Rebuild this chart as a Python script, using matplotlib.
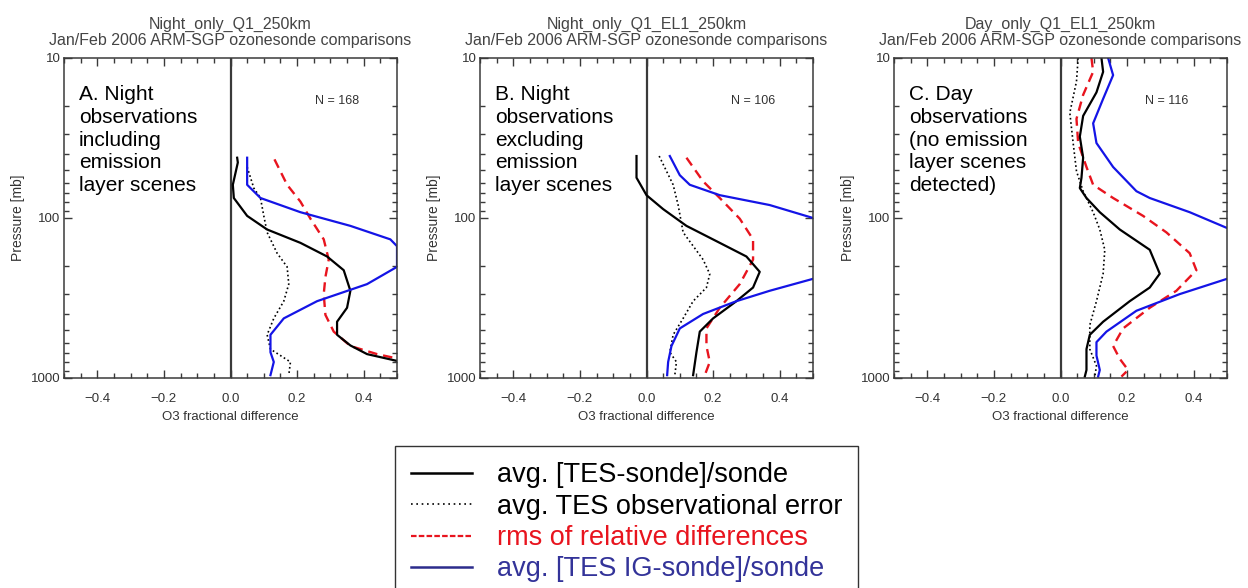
import numpy as np
import matplotlib.pyplot as plt
from matplotlib.lines import Line2D
from matplotlib.ticker import MultipleLocator, LogLocator, FuncFormatter, NullFormatter

plt.rcParams['font.family'] = ['Liberation Sans', 'DejaVu Sans']

# ---- data (x = fractional difference, p = pressure in mb)
titles = ["Night_only_Q1_250km\nJan/Feb 2006 ARM-SGP ozonesonde comparisons",
          "Night_only_Q1_EL1_250km\nJan/Feb 2006 ARM-SGP ozonesonde comparisons",
          "Day_only_Q1_EL1_250km\nJan/Feb 2006 ARM-SGP ozonesonde comparisons"]
notes = ["A. Night\nobservations\nincluding\nemission\nlayer scenes",
         "B. Night\nobservations\nexcluding\nemission\nlayer scenes",
         "C. Day\nobservations\n(no emission\nlayer scenes\ndetected)"]
counts = [168, 106, 116]

# A
a_black_p = [42, 45, 62, 75, 97, 118, 143, 174, 212, 285, 364, 445, 537, 626, 709, 782, 900]
a_black_x = [0.02, 0.022, 0.007, 0.01, 0.05, 0.11, 0.21, 0.29, 0.34, 0.36, 0.35, 0.32, 0.32, 0.36, 0.41, 0.50, 0.62]
a_dot_p = [48, 65, 75, 97, 123, 166, 202, 259, 331, 424, 537, 660, 794, 960]
a_dot_x = [0.05, 0.07, 0.09, 0.10, 0.11, 0.14, 0.17, 0.175, 0.16, 0.13, 0.11, 0.12, 0.18, 0.175]
a_red_p = [43, 62, 79, 101, 136, 182, 234, 299, 403, 513, 631, 709, 755, 900]
a_red_x = [0.132, 0.17, 0.21, 0.24, 0.28, 0.295, 0.285, 0.28, 0.285, 0.31, 0.36, 0.44, 0.50, 0.62]
a_blue_p = [42, 62, 75, 92, 112, 136, 150, 202, 259, 331, 424, 537, 690, 794, 960]
a_blue_x = [0.05, 0.05, 0.09, 0.21, 0.36, 0.48, 0.5, 0.5, 0.41, 0.26, 0.16, 0.12, 0.12, 0.13, 0.12]

# B
b_black_p = [41, 56, 72, 88, 112, 143, 174, 217, 272, 331, 424, 513, 690, 960]
b_black_x = [-0.03, -0.03, 0.0, 0.05, 0.12, 0.22, 0.30, 0.34, 0.32, 0.27, 0.20, 0.16, 0.15, 0.14]
b_dot_p = [41, 62, 83, 123, 182, 224, 272, 331, 424, 537, 690, 794, 960]
b_dot_x = [0.038, 0.08, 0.095, 0.11, 0.17, 0.19, 0.18, 0.14, 0.11, 0.08, 0.07, 0.09, 0.085]
b_red_p = [42, 59, 75, 101, 136, 182, 259, 364, 490, 631, 794, 960]
b_red_x = [0.12, 0.17, 0.22, 0.28, 0.32, 0.32, 0.28, 0.22, 0.18, 0.18, 0.19, 0.175]
b_blue_p = [41, 54, 62, 72, 83, 100, 140, 190, 240, 285, 331, 398, 490, 631, 794, 960]
b_blue_x = [0.07, 0.10, 0.13, 0.22, 0.37, 0.50, 0.75, 0.70, 0.50, 0.37, 0.27, 0.17, 0.10, 0.075, 0.065, 0.062]

# C
c_black_p = [10, 12.2, 16.4, 23, 31, 42, 56, 65, 75, 92, 118, 158, 223, 272, 331, 445, 537, 660, 891, 980]
c_black_x = [0.123, 0.128, 0.108, 0.068, 0.058, 0.068, 0.063, 0.058, 0.078, 0.118, 0.178, 0.268, 0.298,
             0.268, 0.208, 0.128, 0.088, 0.078, 0.078, 0.073]
c_dot_p = [10, 14, 22, 34, 51, 68, 92, 118, 158, 223, 331, 467, 660, 841, 980]
c_dot_x = [0.053, 0.048, 0.028, 0.038, 0.048, 0.068, 0.098, 0.118, 0.133, 0.128, 0.108, 0.088, 0.088, 0.108, 0.103]
c_red_p = [10, 12.2, 17, 24, 34, 48, 62, 75, 97, 123, 166, 212, 285, 364, 490, 631, 759, 891, 980]
c_red_x = [0.093, 0.098, 0.068, 0.048, 0.053, 0.078, 0.098, 0.158, 0.248, 0.318, 0.388, 0.408, 0.348,
           0.268, 0.188, 0.158, 0.178, 0.203, 0.183]
c_blue_p = [10, 12.8, 18, 25.6, 34, 48, 68, 75, 92, 115, 150, 200, 240, 299, 380, 513, 597, 724, 891, 980]
c_blue_x = [0.143, 0.158, 0.128, 0.098, 0.108, 0.158, 0.228, 0.268, 0.388, 0.498, 0.7, 0.65, 0.5, 0.358,
            0.228, 0.138, 0.108, 0.108, 0.118, 0.113]

panels = [
    (a_black_x, a_black_p, a_dot_x, a_dot_p, a_red_x, a_red_p, a_blue_x, a_blue_p),
    (b_black_x, b_black_p, b_dot_x, b_dot_p, b_red_x, b_red_p, b_blue_x, b_blue_p),
    (c_black_x, c_black_p, c_dot_x, c_dot_p, c_red_x, c_red_p, c_blue_x, c_blue_p),
]

legend_labels = ["avg. [TES-sonde]/sonde", "avg. TES observational error",
                 "rms of relative differences", "avg. [TES IG-sonde]/sonde"]

RED = '#e8141e'
BLUE = '#1414e6'
GREY = '#3a3a3a'

W, H = 1248, 588
fig = plt.figure(figsize=(W / 100, H / 100), dpi=100)

lefts = [64, 480, 894]
for i, left in enumerate(lefts):
    bx, bp, dx, dp, rx, rp, ux, up = panels[i]
    ax = fig.add_axes([left / W, 1 - 378 / H, 333 / W, 320 / H])
    ax.set_yscale('log')
    ax.set_ylim(1000, 10)
    ax.set_xlim(-0.5, 0.5)

    ax.axvline(0, color=GREY, lw=1.6, zorder=1)
    ax.plot(dx, dp, color='black', lw=1.2, ls=(0, (1, 1.6)))
    ax.plot(rx, rp, color=RED, lw=1.7, ls=(0, (4, 2.5)))
    ax.plot(bx, bp, color='black', lw=1.6)
    ax.plot(ux, up, color=BLUE, lw=1.6)

    ax.set_xticks([-0.4, -0.2, 0.0, 0.2, 0.4])
    ax.xaxis.set_minor_locator(MultipleLocator(0.05))
    ax.xaxis.set_major_formatter(FuncFormatter(lambda v, _: f"{v:.1f}".replace("-", "\u2212")))
    ax.yaxis.set_major_locator(LogLocator(base=10))
    ax.yaxis.set_minor_locator(LogLocator(base=10, subs=range(2, 10)))
    ax.yaxis.set_major_formatter(FuncFormatter(lambda v, _: f"{v:g}"))
    ax.yaxis.set_minor_formatter(NullFormatter())
    ax.tick_params(which='both', direction='in', top=True, right=True, color=GREY,
                   labelcolor='#333333', labelsize=9.5)
    ax.tick_params(which='major', length=6, width=1)
    ax.tick_params(which='minor', length=3.5, width=1)
    ax.tick_params(axis='x', pad=11)
    ax.tick_params(axis='y', pad=2.5)
    for s in ax.spines.values():
        s.set_color(GREY)
        s.set_linewidth(1.1)

    ax.set_xlabel("O3 fractional difference", fontsize=9.5, color='#333333', labelpad=4)
    ax.set_ylabel("Pressure [mb]", fontsize=10, color='#333333', labelpad=4)
    ax.set_title(titles[i], fontsize=11.5, color='#444444', pad=9, linespacing=1.1)

    ax.text(0.044, 0.915, notes[i], transform=ax.transAxes, ha='left', va='top',
            fontsize=15, linespacing=1.25, color='black')
    ax.text(0.82, 0.866, f"N = {counts[i]}", transform=ax.transAxes, ha='center',
            va='center', fontsize=9, color='#333333')

handles = [Line2D([], [], color='black', lw=1.8),
           Line2D([], [], color='black', lw=1.2, ls=(0, (1, 2.2))),
           Line2D([], [], color=RED, lw=1.6, ls=(0, (2.5, 1))),
           Line2D([], [], color='#2c2c8c', lw=1.8)]
leg = fig.legend(handles, legend_labels, loc='upper left',
                 bbox_to_anchor=(395 / W, 1 - 446 / H), borderaxespad=0,
                 fontsize=19.5, handlelength=2.25, handletextpad=0.9, borderpad=0.6,
                 labelspacing=0.2, fancybox=False, edgecolor='#333333',
                 labelcolor=['black', 'black', RED, '#333399'])
leg.get_frame().set_linewidth(1.0)
leg.get_frame().set_alpha(1)

fig.savefig("out.png", dpi=100)
